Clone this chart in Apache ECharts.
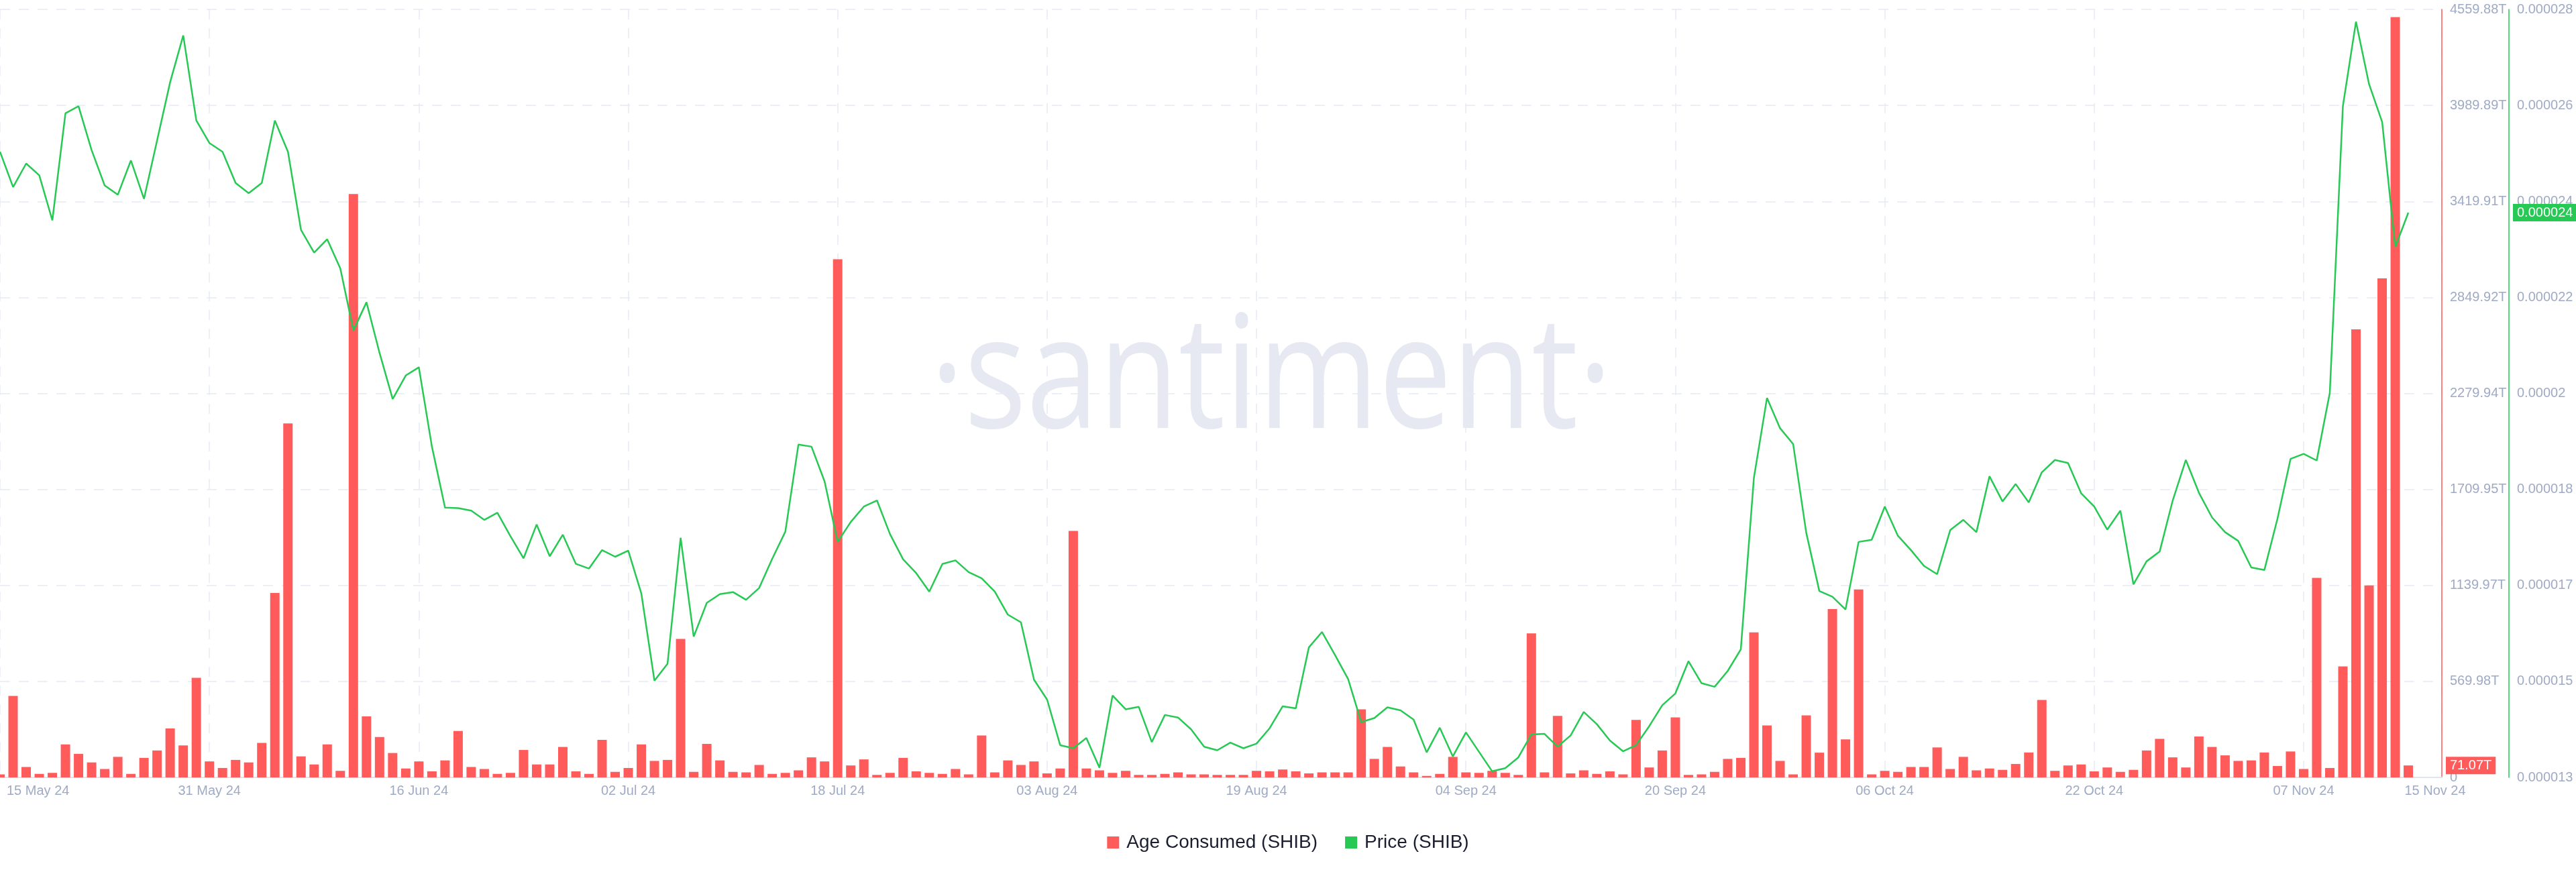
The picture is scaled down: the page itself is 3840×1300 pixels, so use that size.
<!DOCTYPE html>
<html>
<head>
<meta charset="utf-8">
<script src="https://cdn.jsdelivr.net/npm/echarts@6/dist/echarts.min.js"></script>
<style>
html,body{margin:0;padding:0;background:#ffffff;}
#chart{width:3840px;height:1300px;}
</style>
</head>
<body>
<div id="chart"></div>
<script>
// ---------- data ----------
const firstDay = '2024-05-15';           // one bar / point per day from this date
const lastAxisDay = 186.56;              // axis extends this many days after firstDay

const ageConsumed = [
  18,484,62,21,27,196,140,89,50,122,
  21,116,160,291,190,591,95,56,104,89,
  205,1095,2102,125,77,196,39,3464,362,240,
  145,53,95,36,101,276,62,50,21,27,
  163,77,77,181,36,21,223,33,56,196,
  98,104,822,33,199,101,33,30,74,21,
  27,42,119,95,3076,71,107,15,27,116,
  36,27,21,50,18,249,30,101,74,95,
  24,53,1464,53,42,27,39,15,15,21,
  30,18,18,15,15,15,39,36,47,36,
  24,30,30,30,404,110,181,65,30,9,
  21,122,30,27,39,27,15,855,30,365,
  24,42,21,36,18,341,59,160,356,15,
  18,33,110,116,861,309,98,18,368,147,
  1000,226,1116,18,39,33,62,62,178,50,
  122,42,53,45,80,148,460,39,71,77,
  36,59,33,45,160,229,119,59,243,181,
  131,98,101,148,68,154,50,1185,56,659,
  2660,1140,2963,4514,71.07
];

const priceShib = [
  0.00002522,0.00002453,0.00002499,0.00002476,0.00002388,0.00002597,0.00002611,0.00002525,0.00002456,0.00002438,
  0.00002505,0.0000243,0.00002544,0.00002658,0.00002749,0.00002583,0.00002539,0.00002522,0.00002461,0.00002441,
  0.00002461,0.00002583,0.00002522,0.00002369,0.00002325,0.00002351,0.00002294,0.00002173,0.00002228,0.00002129,
  0.00002039,0.00002085,0.00002101,0.00001946,0.00001827,0.00001826,0.00001821,0.00001803,0.00001817,0.00001771,
  0.00001728,0.00001794,0.00001732,0.00001774,0.00001717,0.00001708,0.00001744,0.00001731,0.00001743,0.00001659,
  0.00001489,0.00001522,0.00001768,0.00001575,0.00001641,0.00001658,0.00001662,0.00001647,0.0000167,0.00001727,
  0.0000178,0.0000195,0.00001946,0.00001878,0.0000176,0.00001799,0.00001829,0.00001841,0.00001775,0.00001726,
  0.00001699,0.00001663,0.00001717,0.00001724,0.00001701,0.00001689,0.00001663,0.00001618,0.00001603,0.00001491,
  0.00001452,0.00001363,0.00001357,0.00001377,0.00001319,0.0000146,0.00001433,0.00001438,0.00001369,0.00001422,
  0.00001417,0.00001394,0.0000136,0.00001353,0.00001368,0.00001357,0.00001366,0.00001396,0.00001439,0.00001435,
  0.00001554,0.00001584,0.00001539,0.00001492,0.00001408,0.00001416,0.00001437,0.00001431,0.00001413,0.00001349,
  0.00001397,0.00001341,0.00001388,0.0000135,0.00001312,0.00001318,0.00001339,0.00001384,0.00001385,0.0000136,
  0.00001382,0.00001428,0.00001404,0.00001372,0.00001351,0.00001363,0.000014,0.00001441,0.00001464,0.00001527,
  0.00001484,0.00001477,0.00001508,0.0000155,0.00001885,0.00002041,0.00001982,0.00001951,0.00001778,0.00001664,
  0.00001653,0.00001628,0.0000176,0.00001764,0.00001829,0.00001772,0.00001744,0.00001713,0.00001697,0.00001783,
  0.00001803,0.00001779,0.00001888,0.00001839,0.00001873,0.00001837,0.00001896,0.0000192,0.00001914,0.00001855,
  0.00001829,0.00001784,0.00001821,0.00001677,0.00001722,0.00001741,0.00001841,0.0000192,0.00001856,0.00001808,
  0.00001779,0.00001762,0.0000171,0.00001705,0.00001805,0.00001922,0.00001932,0.00001919,0.00002051,0.00002611,
  0.00002776,0.00002654,0.0000258,0.00002336,0.00002403
];

const xTickDates  = ['2024-05-15','2024-05-31','2024-06-16','2024-07-02','2024-07-18','2024-08-03',
                     '2024-08-19','2024-09-04','2024-09-20','2024-10-06','2024-10-22','2024-11-07'];
const xTickLabels = ['15 May 24','31 May 24','16 Jun 24','02 Jul 24','18 Jul 24','03 Aug 24',
                     '19 Aug 24','04 Sep 24','20 Sep 24','06 Oct 24','22 Oct 24','07 Nov 24'];
const xEndLabel   = '15 Nov 24';

const ageMax = 4559.88;
const ageTickLabels = ['0','569.98T','1139.97T','1709.95T','2279.94T','2849.92T','3419.91T','3989.89T','4559.88T'];
const priceMin = 0.000013, priceMax = 0.000028;
const priceTickLabels = ['0.000013','0.000015','0.000017','0.000018','0.00002','0.000022','0.000024','0.000026','0.000028'];

const seriesNames = ['Age Consumed (SHIB)', 'Price (SHIB)'];

// ---------- helpers ----------
function dayIndex(s) {
  const p = s.split('-').map(Number), f = firstDay.split('-').map(Number);
  return Math.round((Date.UTC(p[0], p[1] - 1, p[2]) - Date.UTC(f[0], f[1] - 1, f[2])) / 86400000);
}
const xMin = 0;
const xMax = lastAxisDay;
const ageData = ageConsumed.map((v, i) => [i, v]);
const priceData = priceShib.map((v, i) => [i, v]);
const xTickValues = xTickDates.map(dayIndex).concat([xMax]);
const ageInterval = ageMax / (ageTickLabels.length - 1);
const priceTickValues = priceTickLabels.map((_, k) => priceMin + (priceMax - priceMin) * k / (priceTickLabels.length - 1));

const RED = '#ff5b5b', GREEN = '#26c953', LABEL = '#9faac4', GRIDC = '#e7eaf3';
const FONT = '"Liberation Sans", Arial, sans-serif';

const chart = echarts.init(document.getElementById('chart'), null, {renderer: 'canvas'});

const option = {
  animation: false,
  backgroundColor: '#ffffff',
  grid: {left: 0, right: 200, top: 14, bottom: 141, containLabel: false, outerBoundsMode: 'none'},
  legend: {
    data: seriesNames,
    top: 1237, left: 'center',
    icon: 'rect', itemWidth: 18, itemHeight: 18, itemGap: 41,
    textStyle: {fontSize: 28, color: '#1b1e2f', fontFamily: FONT, padding: [0, 0, 0, 6]}
  },
  xAxis: {
    type: 'value', min: xMin, max: xMax, scale: true,
    axisLine: {show: true, onZero: false, lineStyle: {color: '#e1e5ef', width: 2}},
    axisTick: {show: false, customValues: xTickValues},
    splitLine: {show: true, lineStyle: {color: GRIDC, width: 1.5, type: [15, 13]}},
    axisLabel: {
      customValues: xTickValues,
      showMinLabel: true, showMaxLabel: true, hideOverlap: false,
      alignMinLabel: 'left', alignMaxLabel: 'center',
      margin: 10, color: LABEL, fontSize: 20, fontFamily: FONT,
      formatter: function (value) {
        if (Math.abs(value - xMax) < 1e-6) return '{last|' + xEndLabel + '}';
        for (let k = 0; k < xTickDates.length; k++) {
          if (Math.abs(dayIndex(xTickDates[k]) - value) < 0.01) {
            return k === 0 ? '{first|' + xTickLabels[k] + '}' : xTickLabels[k];
          }
        }
        return '';
      },
      rich: {
        first: {padding: [0, 0, 0, 10], color: LABEL, fontSize: 20, fontFamily: FONT},
        last: {padding: [0, 20, 0, 0], color: LABEL, fontSize: 20, fontFamily: FONT}
      }
    }
  },
  yAxis: [
    {
      type: 'value', position: 'right', offset: 0,
      min: 0, max: ageMax, interval: ageInterval,
      axisLine: {show: true, onZero: false, lineStyle: {color: RED, width: 1.5}},
      axisTick: {show: false},
      splitLine: {show: true, lineStyle: {color: GRIDC, width: 1.5, type: [15, 13]}},
      axisLabel: {
        margin: 12, color: LABEL, fontSize: 20, fontFamily: FONT,
        formatter: function (v) { return ageTickLabels[Math.round(v / ageInterval)] || ''; }
      }
    },
    {
      type: 'value', position: 'right', offset: 100,
      min: priceMin, max: priceMax,
      axisLine: {show: true, onZero: false, lineStyle: {color: GREEN, width: 1.5}},
      axisTick: {show: false},
      splitLine: {show: false},
      axisLabel: {
        customValues: priceTickValues,
        margin: 12, color: LABEL, fontSize: 20, fontFamily: FONT,
        formatter: function (v) {
          let best = 0, bd = Infinity;
          priceTickValues.forEach((t, k) => { const d = Math.abs(t - v); if (d < bd) { bd = d; best = k; } });
          return priceTickLabels[best];
        }
      }
    }
  ],
  series: [
    {
      name: seriesNames[0], type: 'bar', yAxisIndex: 0, data: ageData,
      barWidth: 14, clip: true, z: 2,
      itemStyle: {color: RED}
    },
    {
      name: seriesNames[1], type: 'line', yAxisIndex: 1, data: priceData,
      showSymbol: false, symbol: 'none', clip: true, z: 3,
      lineStyle: {color: GREEN, width: 2.5},
      itemStyle: {color: GREEN}
    }
  ],
  graphic: {
    elements: [{
      id: 'watermark', type: 'text', x: 1895, y: 571, z: -1, silent: true,
      scaleX: 0.83, scaleY: 1,
      style: {text: '\u00B7santiment\u00B7', fill: '#e6e9f2', font: '234px "Open Sans"', align: 'center', verticalAlign: 'middle'}
    }]
  }
};
chart.setOption(option);

// value badges on the right axes, placed through the library's scales
const lastAge = ageConsumed[ageConsumed.length - 1];
const lastPrice = priceShib[priceShib.length - 1];
const xRight = chart.convertToPixel({xAxisIndex: 0}, xMax);
const yAge = chart.convertToPixel({yAxisIndex: 0}, lastAge);
const yPrice = chart.convertToPixel({yAxisIndex: 1}, lastPrice);
chart.setOption({
  graphic: {
    elements: [
      {id: 'badgeAge', type: 'text', x: xRight + 6, y: yAge, z: 10, silent: true,
       style: {text: lastAge.toFixed(2) + 'T', fill: '#ffffff', backgroundColor: RED, padding: [3, 6, 3, 6],
               font: '20px ' + FONT, align: 'left', verticalAlign: 'middle'}},
      {id: 'badgePrice', type: 'text', x: xRight + 100 + 6, y: yPrice, z: 10, silent: true,
       style: {text: lastPrice.toFixed(6), fill: '#ffffff', backgroundColor: GREEN, padding: [3, 6, 3, 6],
               font: '20px ' + FONT, align: 'left', verticalAlign: 'middle'}}
    ]
  }
});
</script>
</body>
</html>
